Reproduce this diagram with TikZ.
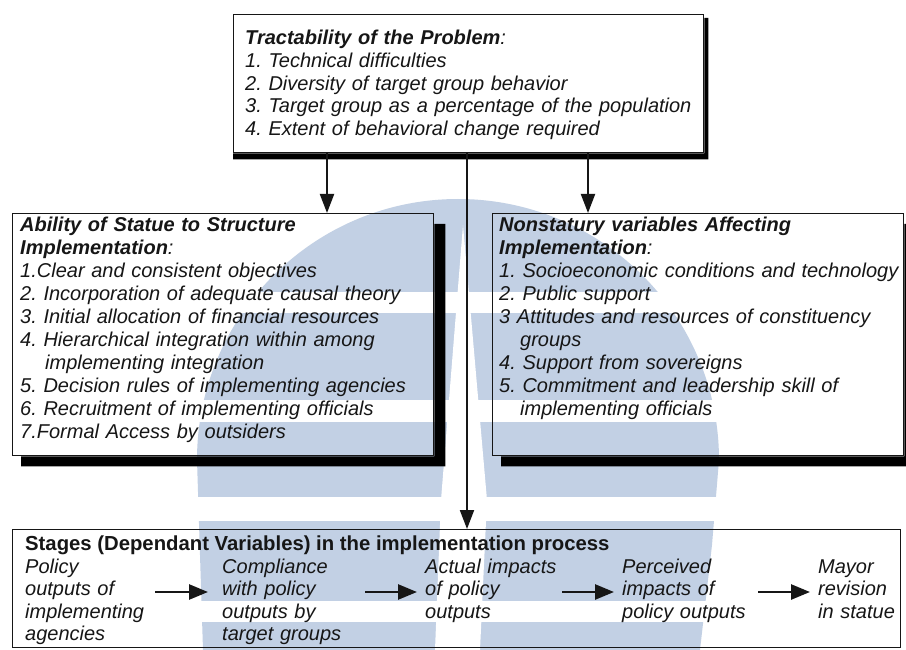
\documentclass[tikz,border=0pt]{standalone}
\usepackage{fontspec}
\setmainfont{Liberation Sans}
\frenchspacing
\usetikzlibrary{arrows.meta}
\definecolor{wm}{RGB}{194,208,228}
\definecolor{ink}{RGB}{22,22,22}
\begin{document}
\begin{tikzpicture}[x=1pt,y=-1pt,
  every node/.style={inner sep=0pt, text=ink},
  boxnode/.style={draw=ink, line width=1.3pt, anchor=north west, inner sep=0pt},
  boxtxt/.style={anchor=base west, align=left, text width=#1, font=\fontsize{20}{23}\selectfont\itshape\frenchspacing},
  toptxt/.style={anchor=base west, align=left, text width=#1, font=\fontsize{20}{22.6}\selectfont\itshape\frenchspacing},
  stagetxt/.style={anchor=base west, align=left, text width=#1, font=\fontsize{20}{22.5}\selectfont\itshape},
  stitlefont/.style={anchor=base west, font=\fontsize{20.3}{23}\selectfont\bfseries},
  conn/.style={draw=ink, line width=2pt, -{Triangle[width=14pt,length=19pt]}},
  sarrow/.style={draw=ink, line width=2.6pt, -{Triangle[width=15pt,length=19pt]}, shorten >=8pt},
  boxshadow/.style={fill=black}
]
\useasboundingbox (0,0) rectangle (906,650);
\fill[white] (0,0) rectangle (906,650);

% watermark
\fill[wm] (203,650) -- (197,460) arc[start angle=180, end angle=360, radius=261] -- (712,545) -- (700,650) -- cycle;
\fill[white] (463,225) -- (441,500) -- (435,650) -- (480,650) -- (487,500) -- cycle;
\fill[white] (180,292) rectangle (740,313);
\fill[white] (180,400) rectangle (740,422);
\fill[white] (180,497) rectangle (740,521);
\fill[white] (180,601) rectangle (740,622);

% boxes
\node[boxnode, minimum width=470pt, minimum height=138pt] (top) at (233,14) {};
\node[boxnode, minimum width=421pt, minimum height=242pt] (lbox) at (12,213) {};
\node[boxnode, minimum width=411pt, minimum height=242pt] (rbox) at (492,213) {};
\node[boxnode, minimum width=888pt, minimum height=118pt] (sbox) at (12,529) {};

% shadows
\fill[boxshadow] ([shift={(0,4)}]top.north east) -- ([shift={(4,4)}]top.north east) -- ([shift={(4,6)}]top.south east) -- ([shift={(0,6)}]top.south west) -- (top.south west) -- (top.south east) -- cycle;
\fill[boxshadow] ([shift={(0,11)}]lbox.north east) -- ([shift={(11,11)}]lbox.north east) -- ([shift={(11,10)}]lbox.south east) -- ([shift={(9,10)}]lbox.south west) -- ([shift={(9,0)}]lbox.south west) -- (lbox.south east) -- cycle;
\fill[boxshadow] ([shift={(0,11)}]rbox.north east) -- ([shift={(11,11)}]rbox.north east) -- ([shift={(11,10)}]rbox.south east) -- ([shift={(9,10)}]rbox.south west) -- ([shift={(9,0)}]rbox.south west) -- (rbox.south east) -- cycle;

% texts
\node[toptxt=470pt] (toptext) at (245,45) {\textbf{Tractability of the Problem}:\\1. Technical difficulties\\2. Diversity of target group behavior\\3. Target group as a percentage of the population\\4. Extent of behavioral change required};

\node[boxtxt=430pt] (ltext) at (20,232) {\textbf{Ability of Statue to Structure}\\\textbf{Implementation}:\\1.Clear and consistent objectives\\2. Incorporation of adequate causal theory\\3. Initial allocation of financial resources\\4. Hierarchical integration within among\\\hspace*{25pt}implementing integration\\5. Decision rules of implementing agencies\\6. Recruitment of implementing officials\\7.Formal Access by outsiders};

\node[boxtxt=430pt] (rtext) at (499,232) {\textbf{Nonstatury variables Affecting}\\\textbf{Implementation}:\\1. Socioeconomic conditions and technology\\2. Public support\\3 Attitudes and resources of constituency\\\hspace*{21pt}groups\\4. Support from sovereigns\\5. Commitment and leadership skill of\\\hspace*{21pt}implementing officials};

\node[stitlefont] (stitle) at (25,550) {Stages (Dependant Variables) in the implementation process};
\node[stagetxt=130pt] (s1) at (25,573) {Policy\\outputs of\\implementing\\agencies};
\node[stagetxt=143pt] (s2) at (222,573) {Compliance\\with policy\\outputs by\\target groups};
\node[stagetxt=137pt] (s3) at (425,573) {Actual impacts\\of policy\\outputs};
\node[stagetxt=136pt] (s4) at (622,573) {Perceived\\impacts of\\policy outputs};
\node[stagetxt=80pt] (s5) at (818,573) {Mayor\\revision\\in statue};

% connectors
\coordinate (xl) at (327,0);
\coordinate (xm) at (467,0);
\coordinate (xr) at (588,0);
\coordinate (ay) at (0,592);
\draw[conn] (xl |- top.south) -- (xl |- lbox.north);
\draw[conn] (xm |- top.south) -- (xm |- sbox.north);
\draw[conn] (xr |- top.south) -- (xr |- rbox.north);

\draw[sarrow, shorten >=14pt] (s1.east |- ay) -- (s2.west |- ay);
\draw[sarrow] (s2.east |- ay) -- (s3.west |- ay);
\draw[sarrow] (s3.east |- ay) -- (s4.west |- ay);
\draw[sarrow] (s4.east |- ay) -- (s5.west |- ay);
\end{tikzpicture}
\end{document}
